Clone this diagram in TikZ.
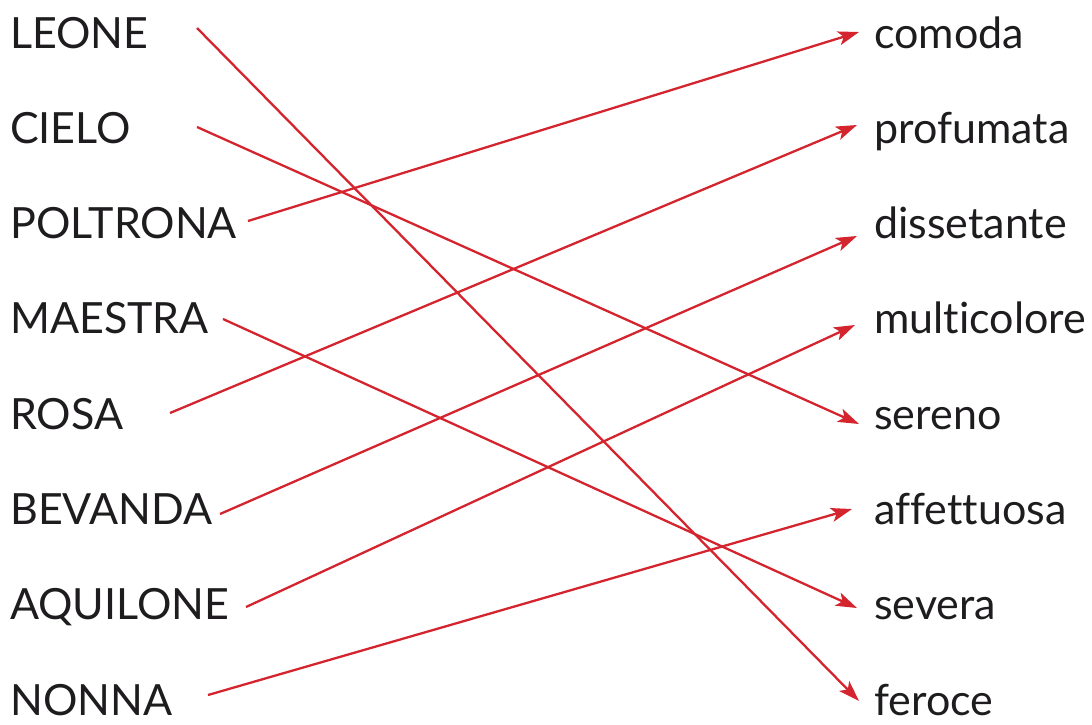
\documentclass[tikz,border=0pt]{standalone}
\usepackage{fontspec}
\setmainfont{Lato}[Ligatures=NoCommon]
\usetikzlibrary{arrows.meta}
\definecolor{linkred}{RGB}{212,36,46}
\definecolor{ink}{RGB}{30,28,30}
\begin{document}
\begin{tikzpicture}[x=1pt,y=-1pt,
  word/.style={anchor=base west,inner sep=0pt,font=\fontsize{43}{43}\selectfont,text=ink},
  link/.style={draw=linkred,line width=2.3pt,-{Stealth[length=21pt,width=14pt,inset=5pt]}}]
\useasboundingbox (0,0) rectangle (1092,724);
% left column
\node[word] (leone)    at (10,48)    {LEONE};
\node[word] (cielo)    at (10,143.3) {CIELO};
\node[word] (poltrona) at (10,238.6) {POLTRONA};
\node[word] (maestra)  at (10,333.9) {MAESTRA};
\node[word] (rosa)     at (10,429.2) {ROSA};
\node[word] (bevanda)  at (10,524.5) {BEVANDA};
\node[word] (aquilone) at (10,619.8) {AQUILONE};
\node[word] (nonna)    at (10,715.1) {NONNA};
% right column
\node[word] (comoda)      at (874,48)    {comoda};
\node[word] (profumata)   at (874,143.3) {profumata};
\node[word] (dissetante)  at (874,238.6) {dissetante};
\node[word] (multicolore) at (874,333.9) {multicolore};
\node[word] (sereno)      at (874,429.2) {sereno};
\node[word] (affettuosa)  at (874,524.5) {affettuosa};
\node[word] (severa)      at (874,619.8) {severa};
\node[word] (feroce)      at (874,715.1) {feroce};
% connector ends
\coordinate (leone-o)    at (197,28);
\coordinate (cielo-o)    at (197,127);
\coordinate (poltrona-o) at (248,221);
\coordinate (maestra-o)  at (223,319);
\coordinate (rosa-o)     at (170,413);
\coordinate (bevanda-o)  at (220,514);
\coordinate (aquilone-o) at (246,607);
\coordinate (nonna-o)    at (208,695);
\coordinate (comoda-i)      at (859,32);
\coordinate (profumata-i)   at (857,125);
\coordinate (dissetante-i)  at (857,236);
\coordinate (multicolore-i) at (855,325);
\coordinate (sereno-i)      at (859,424);
\coordinate (affettuosa-i)  at (852,509);
\coordinate (severa-i)      at (857,608);
\coordinate (feroce-i)      at (859,701);
% connectors
\draw[link] (leone-o)    -- (feroce-i);
\draw[link] (cielo-o)    -- (sereno-i);
\draw[link] (poltrona-o) -- (comoda-i);
\draw[link] (maestra-o)  -- (severa-i);
\draw[link] (rosa-o)     -- (profumata-i);
\draw[link] (bevanda-o)  -- (dissetante-i);
\draw[link] (aquilone-o) -- (multicolore-i);
\draw[link] (nonna-o)    -- (affettuosa-i);
\end{tikzpicture}
\end{document}
